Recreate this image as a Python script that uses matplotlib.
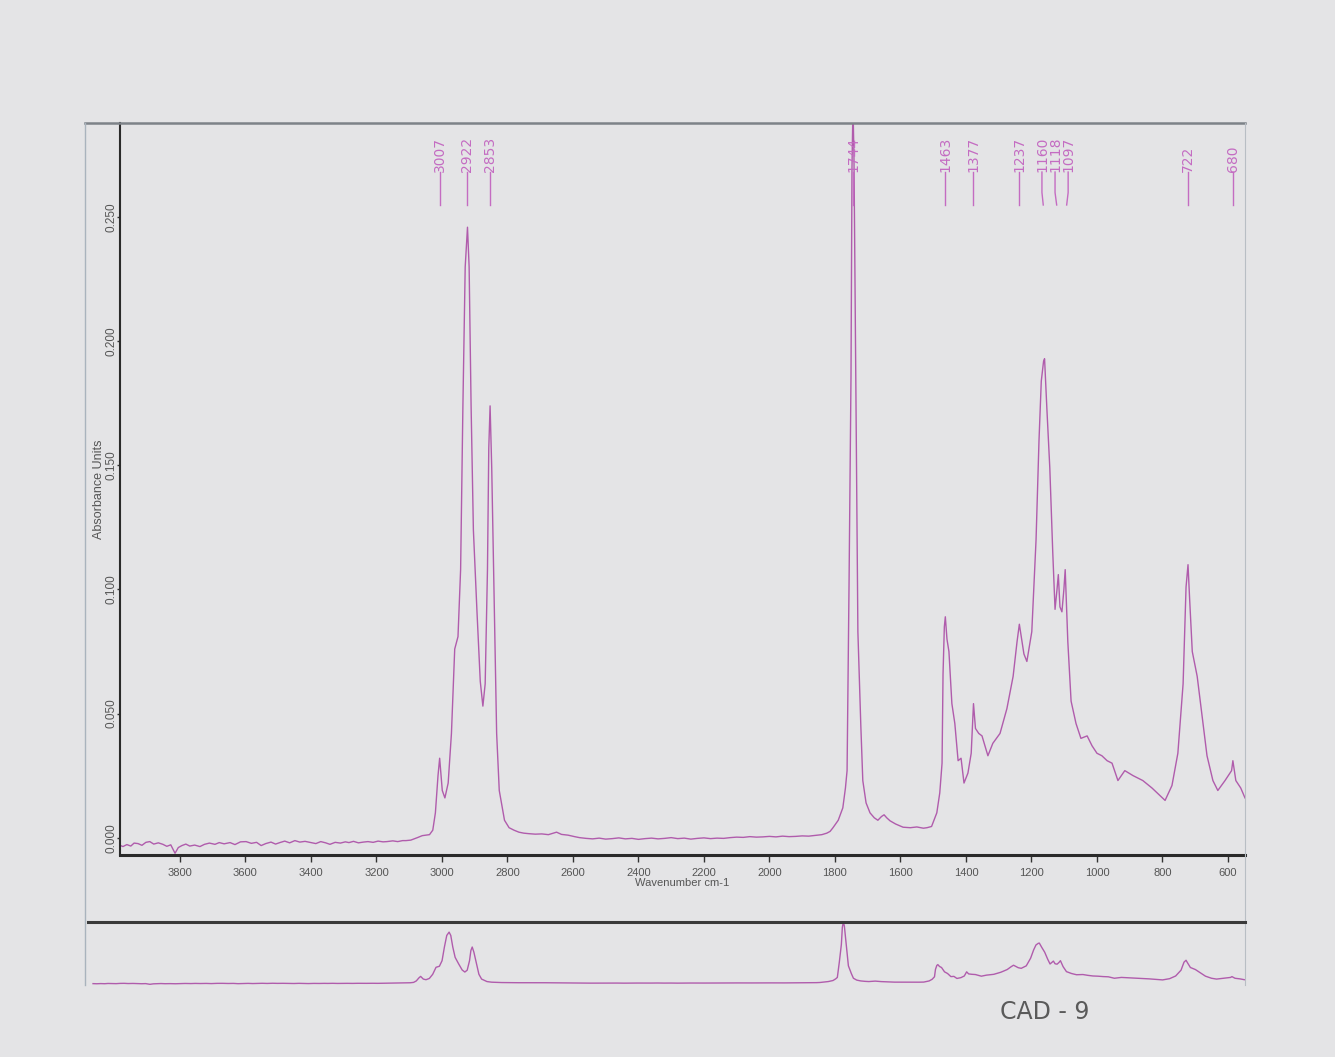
import numpy as np
import matplotlib
matplotlib.use("Agg")
import matplotlib.pyplot as plt
from matplotlib.lines import Line2D

plt.rcParams['font.family'] = ['Liberation Sans', 'DejaVu Sans']

# ---------------- data ----------------
# high-wavenumber noisy baseline
base_hi_wn = [3985, 3974, 3962, 3950, 3940, 3928, 3916, 3904, 3892, 3880, 3866, 3852, 3840, 3828, 3815,
              3805, 3794, 3782, 3770, 3755, 3739, 3725, 3710, 3693, 3680, 3665, 3647, 3632, 3615, 3598,
              3582, 3566, 3552, 3538, 3522, 3508, 3495, 3480, 3465, 3449, 3434, 3418, 3400, 3385, 3370,
              3355, 3342, 3326, 3310, 3295, 3284, 3270, 3255, 3240, 3226, 3210, 3195, 3180, 3168, 3150,
              3135, 3120, 3110, 3095]
base_hi_ab = [-0.0030, -0.0036, -0.0028, -0.0034, -0.0022, -0.0024, -0.0031, -0.0019, -0.0016, -0.0026,
              -0.0021, -0.0027, -0.0035, -0.0029, -0.0063, -0.0040, -0.0032, -0.0026, -0.0034, -0.0030,
              -0.0036, -0.0027, -0.0022, -0.0027, -0.0020, -0.0025, -0.0020, -0.0028, -0.0017, -0.0016,
              -0.0023, -0.0019, -0.0032, -0.0024, -0.0018, -0.0026, -0.0020, -0.0014, -0.0021, -0.0012,
              -0.0018, -0.0015, -0.0020, -0.0024, -0.0016, -0.0021, -0.0027, -0.0019, -0.0022, -0.0017,
              -0.0020, -0.0015, -0.0021, -0.0018, -0.0016, -0.0019, -0.0014, -0.0017, -0.0016, -0.0013,
              -0.0016, -0.0012, -0.0012, -0.0010]

# C-H stretching region
ch_wn = [3075, 3060, 3050, 3038, 3028, 3020, 3012, 3007, 2999, 2991, 2981, 2971, 2961, 2951, 2943,
         2936, 2929, 2922, 2917, 2911, 2904, 2893, 2883, 2875, 2868, 2861, 2857, 2853, 2848, 2840,
         2833, 2825, 2809, 2795, 2780, 2765, 2750]
ch_ab = [0.0000, 0.0008, 0.0010, 0.0012, 0.0030, 0.0100, 0.0250, 0.0320, 0.0190, 0.0160, 0.0220,
         0.0420, 0.0760, 0.0810, 0.1080, 0.1740, 0.2300, 0.2460, 0.2300, 0.1740, 0.1240, 0.0910,
         0.0630, 0.0530, 0.0620, 0.1080, 0.1570, 0.1740, 0.1490, 0.0910, 0.0420, 0.0190, 0.0070,
         0.0040, 0.0030, 0.0022, 0.0018]

# middle baseline
base_mid_wn = [2735, 2715, 2695, 2675, 2660, 2650, 2635, 2615, 2595, 2580, 2560, 2540, 2520, 2500, 2480,
               2460, 2440, 2420, 2400, 2380, 2360, 2340, 2320, 2300, 2280, 2260, 2240, 2220, 2200, 2180,
               2160, 2140, 2120, 2100, 2080, 2060, 2040, 2020, 2000, 1980, 1960, 1940, 1920, 1900, 1880,
               1860, 1840, 1825, 1815]
base_mid_ab = [0.0016, 0.0014, 0.0015, 0.0012, 0.0018, 0.0022, 0.0013, 0.0010, 0.0004, 0.0000,
               -0.0003, -0.0005, -0.0002, -0.0006, -0.0004, -0.0001, -0.0005, -0.0003, -0.0007, -0.0004,
               -0.0002, -0.0005, -0.0003, 0.0000, -0.0004, -0.0002, -0.0006, -0.0003, -0.0001, -0.0004,
               -0.0002, -0.0003, 0.0000, 0.0002, 0.0001, 0.0004, 0.0002, 0.0003, 0.0005, 0.0003,
               0.0006, 0.0004, 0.0005, 0.0007, 0.0006, 0.0009, 0.0012, 0.0018, 0.0025]

# carbonyl region
co_wn = [1806, 1790, 1776, 1768, 1763, 1757, 1751, 1748, 1745, 1742, 1736, 1730, 1721, 1715, 1705,
         1693, 1680, 1669, 1658, 1650, 1642, 1632, 1615, 1592, 1570, 1550, 1530, 1519, 1505]
co_ab = [0.0040, 0.0070, 0.0120, 0.0200, 0.0270, 0.1020, 0.1860, 0.2700, 0.2950, 0.2750, 0.1770,
         0.0830, 0.0450, 0.0230, 0.0140, 0.0100, 0.0080, 0.0070, 0.0085, 0.0092, 0.0080, 0.0068,
         0.0055, 0.0042, 0.0040, 0.0043, 0.0038, 0.0040, 0.0045]

# fingerprint region
fp_wn = [1489, 1480, 1473, 1470, 1466, 1463, 1458, 1452, 1443, 1434, 1424, 1415, 1406, 1394, 1384,
         1377, 1371, 1361, 1351, 1342, 1333, 1318, 1296, 1275, 1256, 1244, 1237, 1230, 1223, 1214,
         1199, 1186, 1177, 1170, 1163, 1160, 1153, 1144, 1135, 1128, 1122, 1118, 1113, 1107, 1101,
         1097, 1089, 1079, 1064, 1049, 1030, 1015, 1000]
fp_ab = [0.0100, 0.0180, 0.0300, 0.0660, 0.0850, 0.0890, 0.0800, 0.0750, 0.0540, 0.0460, 0.0310,
         0.0320, 0.0220, 0.0260, 0.0340, 0.0540, 0.0440, 0.0420, 0.0410, 0.0370, 0.0330, 0.0380,
         0.0420, 0.0520, 0.0650, 0.0790, 0.0860, 0.0800, 0.0740, 0.0710, 0.0830, 0.1200, 0.1600,
         0.1840, 0.1920, 0.1930, 0.1730, 0.1490, 0.1150, 0.0920, 0.1000, 0.1060, 0.0930, 0.0910,
         0.1000, 0.1080, 0.0790, 0.0550, 0.0460, 0.0400, 0.0410, 0.0370, 0.0340]

# low-wavenumber region
low_wn = [985, 969, 954, 936, 915, 890, 860, 832, 808, 792, 771, 753, 737, 728, 722, 717, 709, 694,
          679, 664, 646, 631, 609, 594, 589, 585, 576, 561, 548]
low_ab = [0.0330, 0.0310, 0.0300, 0.0230, 0.0270, 0.0250, 0.0230, 0.0200, 0.0170, 0.0150, 0.0210,
          0.0340, 0.0620, 0.1010, 0.1100, 0.0960, 0.0750, 0.0650, 0.0490, 0.0330, 0.0230, 0.0190,
          0.0230, 0.0260, 0.0270, 0.0310, 0.0230, 0.0200, 0.0160]

# peak-pick labels
peak_labels = ["3007", "2922", "2853", "1744", "1463", "1377", "1237", "1160", "1118", "1097", "722", "680"]
peak_wn = [3007, 2922, 2853, 1744, 1463, 1377, 1237, 1160, 1118, 1097, 722, 585]
label_wn = [3007, 2922, 2853, 1744, 1463, 1377, 1237, 1168, 1128, 1088, 722, 585]

x_ticks = [3800, 3600, 3400, 3200, 3000, 2800, 2600, 2400, 2200, 2000, 1800, 1600, 1400, 1200, 1000, 800, 600]
y_ticks = [0.000, 0.050, 0.100, 0.150, 0.200, 0.250]
y_tick_labels = ["0.000", "0.050", "0.100", "0.150", "0.200", "0.250"]

wn = np.concatenate([base_hi_wn, ch_wn, base_mid_wn, co_wn, fp_wn, low_wn]).astype(float)
ab = np.concatenate([base_hi_ab, ch_ab, base_mid_ab, co_ab, fp_ab, low_ab]).astype(float)

# ---------------- figure ----------------
W, H = 1335, 1057
fig = plt.figure(figsize=(W / 100, H / 100), dpi=100)
bg = '#e4e4e6'
fig.patch.set_facecolor(bg)

def fx(px):
    return px / W

def fy(py):
    return 1 - py / H

line_color = '#b05cac'
label_color = '#c46cc2'
text_gray = '#555555'

ax = fig.add_axes([fx(120), fy(855), fx(1245) - fx(120), fy(123) - fy(855)])
ax.set_facecolor('none')
ax.plot(wn, ab, color=line_color, lw=1.0)
ax.set_xlim(3983, 548)
ax.set_ylim(-0.007, 0.288)

for s in ('top', 'right'):
    ax.spines[s].set_visible(False)
ax.spines['left'].set_color('#2a2a2a')
ax.spines['left'].set_linewidth(1.5)
ax.spines['bottom'].set_color('#2a2a2a')
ax.spines['bottom'].set_linewidth(2.2)

ax.set_xticks(x_ticks)
ax.set_xticklabels([str(t) for t in x_ticks])
ax.set_yticks(y_ticks)
ax.set_yticklabels(y_tick_labels)
ax.tick_params(axis='x', direction='out', length=5, width=1, colors='#333333',
               labelcolor=text_gray, labelsize=8, pad=4)
ax.tick_params(axis='y', direction='out', length=2, width=1, colors='#333333',
               labelcolor=text_gray, labelsize=8.5, pad=0, labelrotation=90)
for lbl in ax.get_yticklabels():
    lbl.set_va('center')
ax.set_ylabel('Absorbance Units', fontsize=9, color=text_gray, labelpad=0)
ax.set_xlabel('Wavenumber cm-1', fontsize=8, color=text_gray, labelpad=0)

# peak labels
y_txt, y_mid, y_bot = 0.933, 0.905, 0.888
for lab, pw, lw_ in zip(peak_labels, peak_wn, label_wn):
    ax.text(lw_, y_txt, lab, transform=ax.get_xaxis_transform(), rotation=90,
            ha='center', va='bottom', fontsize=10, color=label_color, clip_on=False,
            family=['DejaVu Sans'])
    ax.plot([lw_, lw_, (lw_ + pw) / 2 if abs(lw_ - pw) > 3 else lw_],
            [y_txt, y_mid, y_bot], transform=ax.get_xaxis_transform(),
            color=label_color, lw=1.0, clip_on=False)

# overview panel
ax2 = fig.add_axes([fx(88), fy(987), fx(1245) - fx(88), fy(922) - fy(987)])
ax2.set_facecolor('none')
ax2.plot(wn, ab, color=line_color, lw=1.0)
ax2.set_xlim(4000, 546)
ax2.set_ylim(-0.0193, 0.295)
ax2.axis('off')

# frame lines of the printout
fig.add_artist(Line2D([fx(85), fx(1245)], [fy(123), fy(123)], color='#7d8288', lw=1.8))
fig.add_artist(Line2D([fx(85), fx(85)], [fy(123), fy(985)], color='#a9b3bd', lw=1.0))
fig.add_artist(Line2D([fx(1245), fx(1245)], [fy(123), fy(985)], color='#b8bec4', lw=0.8))
fig.add_artist(Line2D([fx(88), fx(1245)], [fy(922), fy(922)], color='#3a3a3a', lw=2.2))

# handwritten sample tag
fig.text(fx(1045), fy(1012), 'CAD - 9', ha='center', va='center', fontsize=17,
         color='#5a5a5a', family=['DejaVu Sans'])

fig.savefig('out.png', dpi=100, facecolor=bg)
